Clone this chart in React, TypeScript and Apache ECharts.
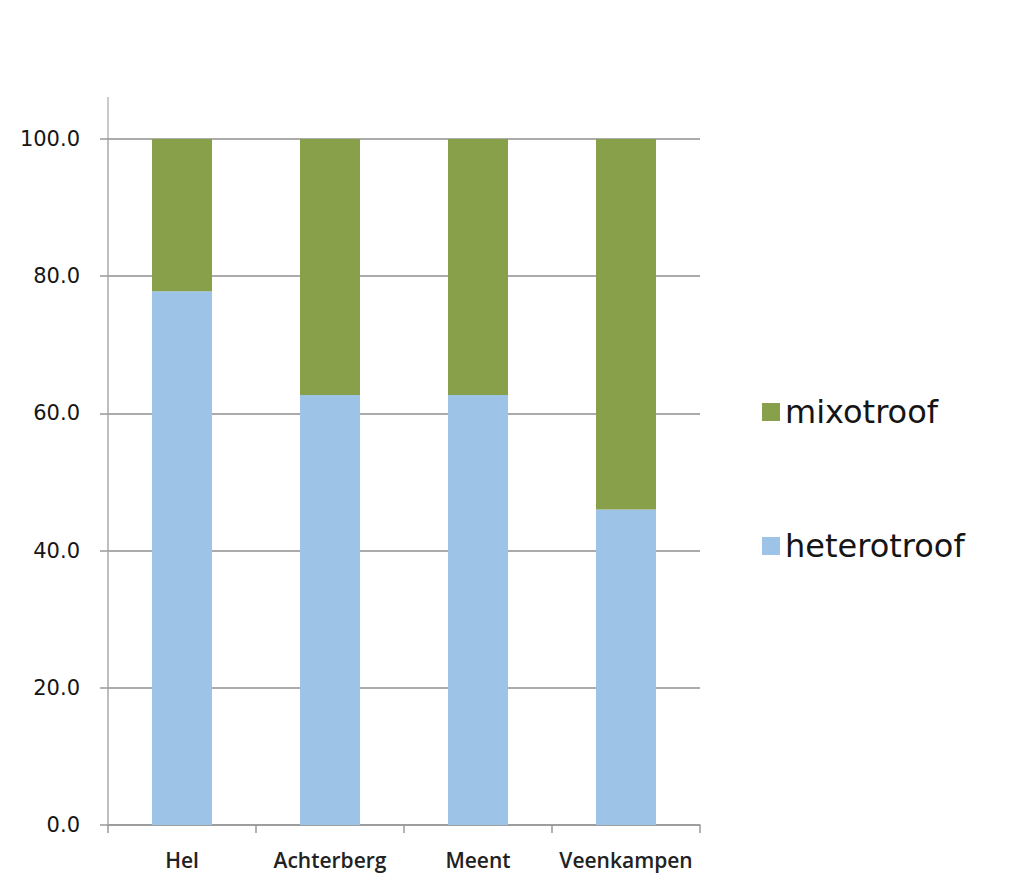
import React, { useEffect, useRef } from "react";
import * as echarts from "echarts";

// Share of heterotrophic vs mixotrophic organisms per site (percent)
const categories = ["Hel", "Achterberg", "Meent", "Veenkampen"];
const heterotroof = [77.8, 62.7, 62.7, 46.0];
const mixotroof = [22.2, 37.3, 37.3, 54.0];
const yTicks = { min: 0, max: 100, interval: 20 };

export default function App() {
  const ref = useRef<HTMLDivElement>(null);

  useEffect(() => {
    if (!ref.current) return;
    const chart = echarts.init(ref.current, null, { renderer: "svg" });
    chart.setOption({
      animation: false,
      backgroundColor: "#ffffff",
      grid: { left: 108, right: 316, top: 139, bottom: 62 },
      legend: {
        orient: "vertical",
        left: 757,
        top: 391,
        itemWidth: 18,
        itemHeight: 18,
        itemGap: 102,
        icon: "rect",
        data: ["mixotroof", "heterotroof"],
        textStyle: {
          fontFamily: "DejaVu Sans",
          fontSize: 32,
          color: "#151515",
          padding: [0, 0, 0, 0],
        },
      },
      xAxis: {
        type: "category",
        data: categories,
        boundaryGap: true,
        axisLine: { show: true, lineStyle: { color: "#9a9a9a", width: 1.5 } },
        axisTick: {
          show: true,
          interval: 0,
          length: 8,
          alignWithLabel: false,
          lineStyle: { color: "#9a9a9a", width: 1.5 },
        },
        axisLabel: {
          margin: 24,
          fontFamily: "Open Sans",
          fontSize: 21,
          fontWeight: 600,
          color: "#222222",
          interval: 0,
        },
      },
      yAxis: {
        type: "value",
        min: yTicks.min,
        max: yTicks.max,
        interval: yTicks.interval,
        axisLine: { show: true, lineStyle: { color: "#a8a8a8", width: 1.5 } },
        axisTick: { show: true, length: 8, lineStyle: { color: "#9a9a9a", width: 1.5 } },
        splitLine: { show: true, lineStyle: { color: "#8f8f8f", width: 1.5 } },
        axisLabel: {
          margin: 28,
          fontFamily: "DejaVu Sans",
          fontSize: 21,
          color: "#151515",
          formatter: (v: number) => v.toFixed(1),
        },
      },
      graphic: [
        {
          type: "line",
          shape: { x1: 108, y1: 97, x2: 108, y2: 139 },
          style: { stroke: "#b8b8b8", lineWidth: 1.5 },
          silent: true,
        },
      ],
      series: [
        {
          name: "heterotroof",
          type: "bar",
          stack: "total",
          barWidth: 60,
          itemStyle: { color: "#9DC3E6" },
          data: heterotroof,
        },
        {
          name: "mixotroof",
          type: "bar",
          stack: "total",
          barWidth: 60,
          itemStyle: { color: "#89A04A" },
          data: mixotroof,
        },
      ],
    });
    return () => chart.dispose();
  }, []);

  return (
    <div
      ref={ref}
      style={{ position: "fixed", left: 0, top: 0, width: 1016, height: 887 }}
    />
  );
}
